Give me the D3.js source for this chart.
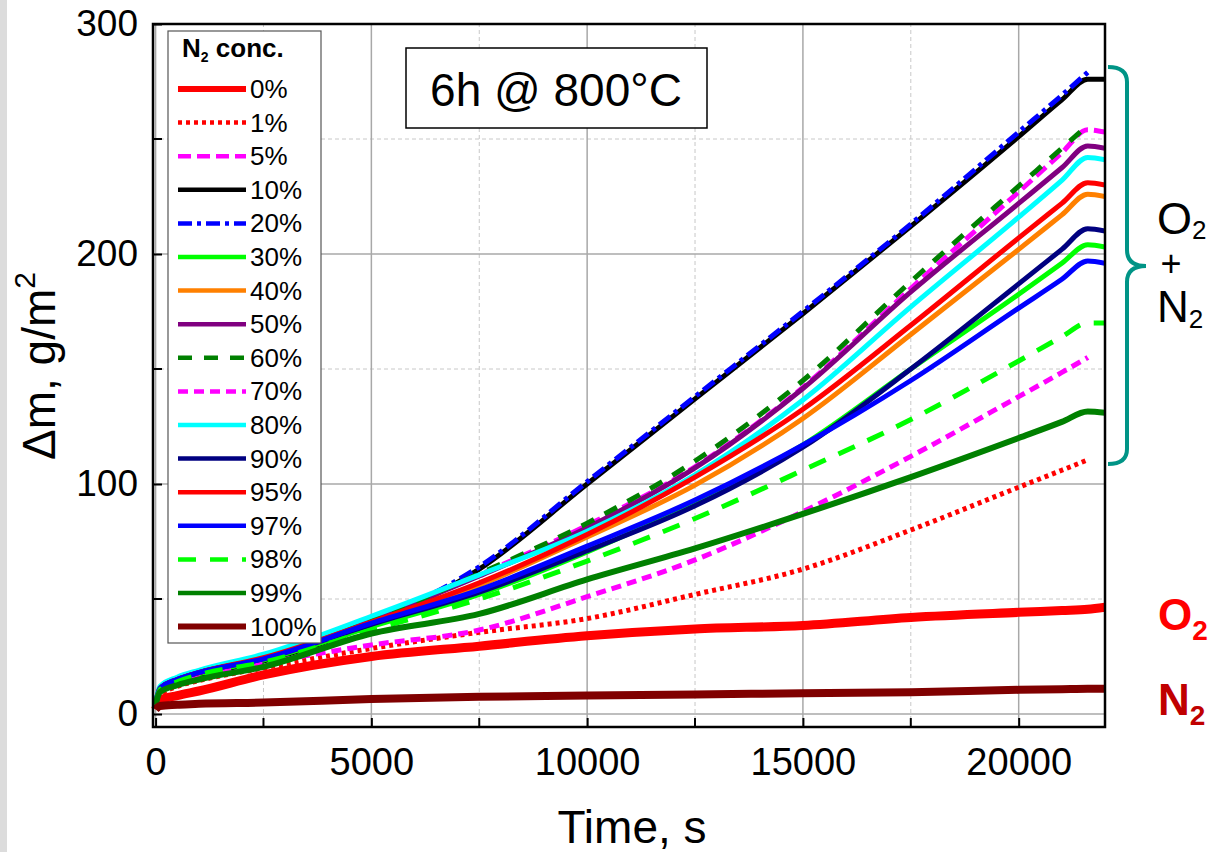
<!DOCTYPE html>
<html><head><meta charset="utf-8">
<script src="https://cdn.jsdelivr.net/npm/d3@7"></script>
<style>
html,body{margin:0;padding:0;background:#fff;}
svg{display:block;font-family:"Liberation Sans",Arial,sans-serif;}
</style></head>
<body><svg id="chart" width="1211" height="852"></svg>
<script>
// ---- data ----
const times = [0, 100, 500, 1000, 2500, 5000, 7500, 10000, 12500, 15000, 17500, 20000, 21000, 21600, 22000];
const seriesNames = ["0%","1%","5%","10%","20%","30%","40%","50%","60%","70%","80%","90%","95%","97%","98%","99%","100%"];
const n2_0   = [2, 6, 8, 10, 17, 25, 29.5, 34, 37, 38.5, 42, 44.2, 45, 45.5, 46.4];
const n2_1   = [3, 8, 12, 14.5, 20, 28.5, 35.5, 41.5, 52, 63, 80, 98.6, 106, 110.5, null];
const n2_5   = [5, 11, 15, 18, 25, 41, 60.5, 82, 107.5, 142, 185, 227, 244, 254, 253];
const n2_10  = [4, 10, 14, 17, 23, 39, 63, 100, 137, 174, 212, 251, 267, 276, 276];
const n2_20  = [5, 11, 15, 18, 24, 40, 64, 101, 138, 175, 213, 253, 269, 279, null];
const n2_30  = [4, 11, 15, 17.5, 23.5, 38, 52, 70.5, 92, 117, 150, 182.5, 196, 204, 203];
const n2_40  = [4, 11, 15, 18, 24, 39.5, 56, 77, 99.5, 128.5, 165, 202, 217, 226, 225];
const n2_50  = [5, 11, 15, 18, 25, 41, 60, 81, 107, 141.5, 183.5, 222, 237.5, 247, 246];
const n2_60  = [5, 11, 15, 18, 25, 41, 61, 83, 110, 145, 188, 229.5, 246, 256, null];
const n2_70  = [4, 10, 14.5, 16.5, 22, 30, 36.5, 51, 67, 88, 112, 138, 148.5, 155, null];
const n2_80  = [5, 12, 16, 19, 26, 42.5, 60.5, 79.5, 104, 136.5, 177, 216, 232, 242, 241];
const n2_90  = [4, 11, 15, 18, 24, 39, 53, 71, 90.5, 116, 150, 187, 202, 211, 210];
const n2_95  = [4, 11, 15, 18, 24.5, 40, 57, 78, 103, 132.5, 169, 207, 222, 231, 230];
const n2_97  = [4, 11, 15, 18, 24, 39.5, 54, 73, 93, 117, 145, 176.5, 189, 197, 196];
const n2_98  = [4, 10.5, 14, 17, 22.5, 36.5, 50, 66.5, 85, 106, 128, 153.5, 164, 170, 170];
const n2_99  = [4, 9.5, 12.5, 15, 20.5, 35, 43.5, 58.5, 72, 87, 103, 120, 127, 131.5, 131];
const n2_100 = [2, 3.5, 4, 4.5, 5, 6.5, 7.5, 8, 8.5, 9, 9.5, 10.5, 10.8, 11, 11];
const seriesValues = [n2_0,n2_1,n2_5,n2_10,n2_20,n2_30,n2_40,n2_50,n2_60,n2_70,n2_80,n2_90,n2_95,n2_97,n2_98,n2_99,n2_100];
const xMajorTicks = [0, 5000, 10000, 15000, 20000];
const xMinorTicks = [2500, 7500, 12500, 17500];
const yMajorTicks = [0, 100, 200, 300];
const yMinorTicks = [50, 150, 250];

// ---- styles ----
const colors = ["#ff0000","#ff0000","#ff00ff","#000000","#0000ff","#00ff00","#ff8000","#800080","#008000","#ff00ff","#00ffff","#000080","#ff0000","#0000ff","#00ff00","#008000","#800000"];
const dashes = [null,"4,4","13,6",null,"14,5,4,5",null,null,null,"14,12","10,6",null,null,null,null,"18,14",null,null];
const widths = [9,5,5,5,5,5,5,5,5,5,5,5,5,5,5,6,8];
const legendWidths = [6,4.5,4.5,4.5,4.5,4.5,4.5,4.5,4.5,4.5,4.5,4.5,4.5,4.5,4.5,4.5,6];

const svg = d3.select("#chart");
svg.append("rect").attr("x",0).attr("y",0).attr("width",7).attr("height",852).attr("fill","#dcdcdc");

const x = d3.scaleLinear().domain([-60, 22000]).range([153, 1105]);
const y = d3.scaleLinear().domain([-5.65, 300]).range([727, 24]);

// grid
const grid = svg.append("g");
grid.selectAll(".gxm").data(xMinorTicks).join("line")
  .attr("x1",d=>x(d)).attr("x2",d=>x(d)).attr("y1",y.range()[0]).attr("y2",y.range()[1])
  .attr("stroke","#c8c8c8").attr("stroke-width",1).attr("stroke-dasharray","4,3");
grid.selectAll(".gym").data(yMinorTicks).join("line")
  .attr("y1",d=>y(d)).attr("y2",d=>y(d)).attr("x1",x.range()[0]).attr("x2",x.range()[1])
  .attr("stroke","#c8c8c8").attr("stroke-width",1).attr("stroke-dasharray","4,3");
grid.selectAll(".gxM").data(xMajorTicks).join("line")
  .attr("x1",d=>x(d)).attr("x2",d=>x(d)).attr("y1",y.range()[0]).attr("y2",y.range()[1])
  .attr("stroke","#a8a8a8").attr("stroke-width",1.5);
grid.selectAll(".gyM").data(yMajorTicks).join("line")
  .attr("y1",d=>y(d)).attr("y2",d=>y(d)).attr("x1",x.range()[0]).attr("x2",x.range()[1])
  .attr("stroke","#a8a8a8").attr("stroke-width",1.5);

// clip
svg.append("clipPath").attr("id","clip").append("rect")
  .attr("x",x.range()[0]-4).attr("y",y.range()[1]).attr("width",x.range()[1]-x.range()[0]+4).attr("height",y.range()[0]-y.range()[1]);

const line = d3.line().defined(d=>d[1]!==null).x(d=>x(d[0])).y(d=>y(d[1])).curve(d3.curveMonotoneX);
const plot = svg.append("g").attr("clip-path","url(#clip)");
seriesValues.forEach((vals,i)=>{
  const pts = times.map((t,j)=>[t, vals[j]]);
  plot.append("path").attr("d",line(pts)).attr("fill","none")
    .attr("stroke",colors[i]).attr("stroke-width",widths[i])
    .attr("stroke-dasharray",dashes[i]).attr("stroke-linejoin","round");
});

// axes
const xAxis = d3.axisBottom(x).tickValues(xMajorTicks).tickSize(-9).tickPadding(21).tickFormat(d3.format("d"));
const gx = svg.append("g").attr("transform",`translate(0,${y.range()[0]})`).call(xAxis);
gx.selectAll("text").attr("font-size",38).attr("fill","#000").attr("font-family","Liberation Sans, Arial, sans-serif");
gx.select(".domain").remove();
gx.selectAll(".tick line").attr("stroke","#000").attr("stroke-width",2);
svg.append("g").selectAll("line").data(xMinorTicks).join("line")
  .attr("x1",d=>x(d)).attr("x2",d=>x(d)).attr("y1",y.range()[0]).attr("y2",y.range()[0]-9)
  .attr("stroke","#000").attr("stroke-width",2);

const yAxis = d3.axisLeft(y).tickValues(yMajorTicks).tickSize(-9).tickPadding(15);
const gy = svg.append("g").attr("transform",`translate(${x.range()[0]},0)`).call(yAxis);
gy.selectAll("text").attr("font-size",37).attr("fill","#000").attr("font-family","Liberation Sans, Arial, sans-serif");
gy.select(".domain").remove();
gy.selectAll(".tick line").attr("stroke","#000").attr("stroke-width",2);
svg.append("g").selectAll("line").data(yMinorTicks).join("line")
  .attr("y1",d=>y(d)).attr("y2",d=>y(d)).attr("x1",x.range()[0]).attr("x2",x.range()[0]+9)
  .attr("stroke","#000").attr("stroke-width",2);

// frame
svg.append("rect").attr("x",x.range()[0]).attr("y",y.range()[1])
  .attr("width",x.range()[1]-x.range()[0]).attr("height",y.range()[0]-y.range()[1])
  .attr("fill","none").attr("stroke","#000").attr("stroke-width",2.5);

// axis titles
svg.append("text").attr("x",632).attr("y",843).attr("text-anchor","middle").attr("font-size",46).text("Time, s");
const yt = svg.append("text").attr("transform","translate(55,366) rotate(-90)").attr("text-anchor","middle").attr("font-size",46);
yt.append("tspan").text("\u0394m, g/m");
yt.append("tspan").attr("font-size",30).attr("dy",-20).text("2");

// legend
const lg = svg.append("g");
lg.append("rect").attr("x",168).attr("y",31).attr("width",153).attr("height",612)
  .attr("fill","#fff").attr("stroke","#555").attr("stroke-width",1.2);
const lt = lg.append("text").attr("x",182).attr("y",57).attr("font-size",26).attr("font-weight","bold");
lt.append("tspan").text("N");
lt.append("tspan").attr("font-size",14).attr("dy",5).text("2");
lt.append("tspan").attr("dy",-5).text(" conc.");
seriesNames.forEach((n,i)=>{
  const cy = 89 + i*33.6;
  lg.append("line").attr("x1",178).attr("x2",246).attr("y1",cy).attr("y2",cy)
    .attr("stroke",colors[i]).attr("stroke-width",legendWidths[i]).attr("stroke-dasharray",dashes[i]);
  lg.append("text").attr("x",250).attr("y",cy+9).attr("font-size",26).text(n);
});

// annotation box
svg.append("rect").attr("x",406).attr("y",48).attr("width",301).attr("height",80)
  .attr("fill","#fff").attr("stroke","#000").attr("stroke-width",1.5);
svg.append("text").attr("x",556).attr("y",106).attr("text-anchor","middle").attr("font-size",46).text("6h @ 800°C");

// brace
svg.append("path").attr("d","M1108,67 Q1127,67 1127,82 L1127,250 Q1127,266 1146,266 Q1127,266 1127,282 L1127,449 Q1127,464 1108,464")
  .attr("fill","none").attr("stroke","#009486").attr("stroke-width",4);
const bo = svg.append("text").attr("x",1157).attr("y",234).attr("font-size",45);
bo.append("tspan").text("O");
bo.append("tspan").attr("font-size",26).attr("dy",5).text("2");
svg.append("text").attr("x",1171).attr("y",276).attr("text-anchor","middle").attr("font-size",36).text("+");
const bn = svg.append("text").attr("x",1157).attr("y",322).attr("font-size",44);
bn.append("tspan").text("N");
bn.append("tspan").attr("font-size",26).attr("dy",6).text("2");

const o2 = svg.append("text").attr("x",1158).attr("y",630).attr("font-size",44).attr("font-weight","bold").attr("fill","#ff0000");
o2.append("tspan").text("O"); o2.append("tspan").attr("font-size",28).attr("dy",10).text("2");
const nn = svg.append("text").attr("x",1158).attr("y",715).attr("font-size",44).attr("font-weight","bold").attr("fill","#c00000");
nn.append("tspan").text("N"); nn.append("tspan").attr("font-size",28).attr("dy",10).text("2");
</script></body></html>
